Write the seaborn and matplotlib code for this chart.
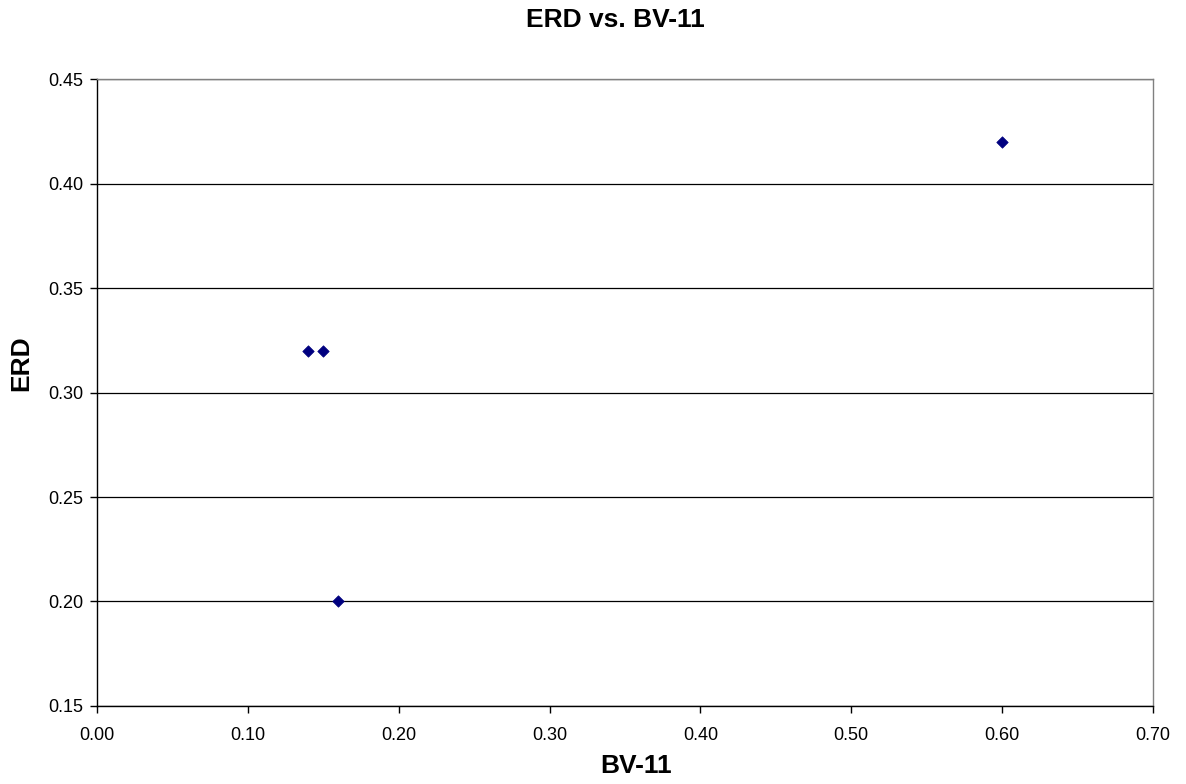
import matplotlib
matplotlib.use("Agg")
import numpy as np
import pandas as pd
import seaborn as sns
import matplotlib.pyplot as plt

# data
bv11 = [0.14, 0.15, 0.16, 0.60]
erd = [0.32, 0.32, 0.20, 0.42]

df = pd.DataFrame({"BV-11": bv11, "ERD": erd})

sns.set_style("white")
plt.rcParams["font.family"] = ["Liberation Sans", "DejaVu Sans"]
plt.rcParams["text.color"] = "black"
plt.rcParams["axes.labelcolor"] = "black"
plt.rcParams["xtick.color"] = "black"
plt.rcParams["ytick.color"] = "black"

fig = plt.figure(figsize=(11.86, 7.84), dpi=100)
ax = fig.add_axes([0.0818, 0.0995, 0.8904, 0.7997])

sns.scatterplot(data=df, x="BV-11", y="ERD", marker="D", s=34, color="#000080",
                edgecolor="#000080", linewidth=0.5, ax=ax, zorder=3)

ax.set_xlim(0, 0.70)
ax.set_ylim(0.15, 0.45)
ax.set_xticks(np.arange(0, 0.71, 0.10))
ax.set_yticks(np.arange(0.15, 0.451, 0.05))
ax.set_xticklabels([f"{v:.2f}" for v in ax.get_xticks()])
ax.set_yticklabels([f"{v:.2f}" for v in ax.get_yticks()])
ax.yaxis.grid(True, color="black", linewidth=0.9)
ax.set_axisbelow(True)

for side in ["left", "bottom"]:
    ax.spines[side].set_color("black")
    ax.spines[side].set_linewidth(1.0)
for side in ["top", "right"]:
    ax.spines[side].set_visible(True)
    ax.spines[side].set_color("#808080")
    ax.spines[side].set_linewidth(1.0)

ax.tick_params(axis="both", which="major", direction="out", length=5, width=1,
               color="black", labelsize=13, left=True, bottom=True)
ax.tick_params(axis="x", pad=10)
ax.tick_params(axis="y", pad=5)

ax.set_xlabel("BV-11", fontsize=19, fontweight="bold")
ax.set_ylabel("ERD", fontsize=19, fontweight="bold")
ax.xaxis.set_label_coords(0.510, -0.0957)
ax.xaxis.label.set_va("center")
ax.yaxis.set_label_coords(-0.0719, 0.547)
ax.yaxis.label.set_va("center")

fig.text(0.519, 0.9745, "ERD vs. BV-11", fontsize=19, fontweight="bold",
         ha="center", va="center")

fig.savefig("out.png", dpi=100)
